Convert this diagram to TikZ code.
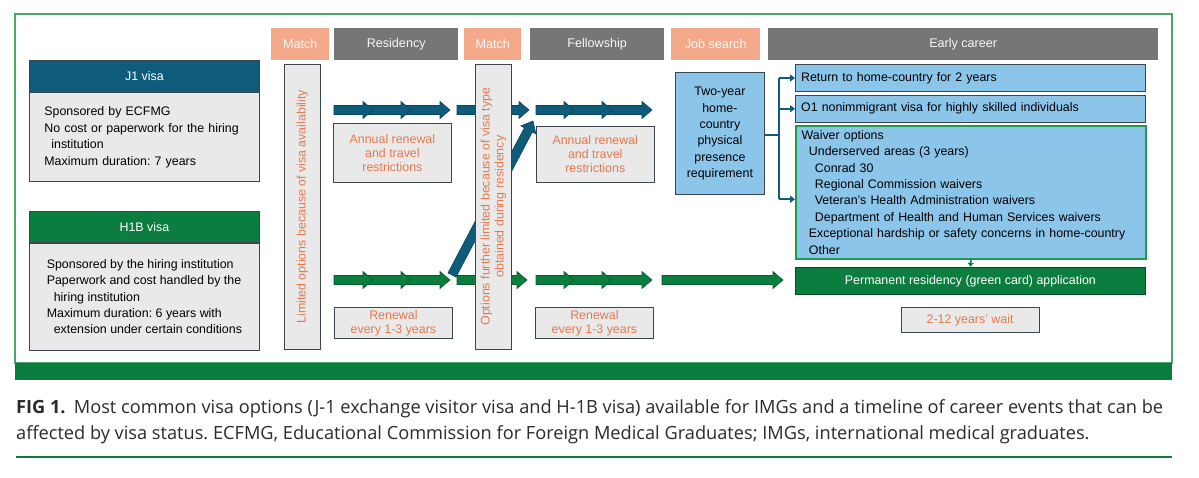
\documentclass[tikz,border=0pt]{standalone}
\usepackage{fontspec}
\setmainfont{Liberation Sans}
\newfontfamily\capfont{Open Sans}
\usetikzlibrary{positioning, arrows.meta, calc}

\definecolor{jteal}{HTML}{0F5B7C}
\definecolor{hgreen}{HTML}{0B7D3E}
\definecolor{salmon}{HTML}{F5A98B}
\definecolor{stagegray}{HTML}{767676}
\definecolor{boxgray}{HTML}{E9E9E9}
\definecolor{edge}{HTML}{3A4750}
\definecolor{skyblue}{HTML}{8CC5EA}
\definecolor{noteorange}{HTML}{E6784C}
\definecolor{framegreen}{HTML}{4CA56E}
\definecolor{waivergreen}{HTML}{1E9A4F}
\definecolor{captext}{HTML}{2B2B2B}

\newcommand{\txt}{\fontsize{12.4}{16.4}\selectfont}
\newcommand{\note}{\fontsize{12.4}{14}\selectfont}
\newcommand{\capsize}{\capfont\fontsize{18.2}{20}\selectfont}

\newcommand{\blockarrow}[4]{%
  \draw[fill=#4, draw=#4!75!black, line width=0.6] (#1,#3-4.5) -- (#2-10,#3-4.5) -- (#2-10,#3-8.5)
    -- (#2,#3) -- (#2-10,#3+8.5) -- (#2-10,#3+4.5) -- (#1,#3+4.5) -- cycle;}

\tikzset{
  stage/.style={fill=#1, text=white!94!gray, minimum height=32, inner sep=0, anchor=north west,
    font=\fontsize{12.6}{15}\selectfont},
  visahead/.style={fill=#1, draw=edge, line width=0.8, text=white, minimum width=230,
    minimum height=31.5, inner sep=0, anchor=north west},
  visabody/.style={fill=boxgray, draw=edge, line width=0.8, minimum width=230, inner sep=0,
    align=left},
  limitbar/.style={fill=boxgray, draw=edge, line width=0.8, rotate=90, minimum width=285,
    minimum height=36.5, inner sep=0, text=noteorange, align=center, font=\note},
  notebox/.style={fill=boxgray, draw=edge, line width=0.8, text=noteorange, align=center,
    inner sep=0, font=\note, anchor=north west},
  skybox/.style={fill=skyblue, draw=edge, line width=0.8, anchor=north west, inner sep=0},
  rightbox/.style={skybox, minimum width=350, inner xsep=5.7, text width=338.6, align=left},
  link/.style={draw=jteal, line width=1.8},
}

\begin{document}
\frenchspacing
\begin{tikzpicture}[x=1pt, y=-1pt, font=\txt]
  \fill[white] (0,0) rectangle (1199,477);
  \useasboundingbox (0,0) rectangle (1199,477);

  \draw[framegreen, line width=1.5] (15,14) rectangle (1172,363);
  \fill[hgreen] (15,363) rectangle (1172,380);

  \node[stage=salmon, minimum width=58] (match1) at (271,28) {Match};
  \node[stage=stagegray, minimum width=124] (resid) at (334,28) {Residency};
  \node[stage=salmon, minimum width=57] (match2) at (464,28) {Match};
  \node[stage=stagegray, minimum width=134] (fellow) at (530,28) {Fellowship};
  \node[stage=salmon, minimum width=89] (jobs) at (671,28) {Job search};
  \node[stage=stagegray, minimum width=390] (early) at (768,28) {Early career};

  \node[visahead=jteal] (j1) at (29,60) {J1 visa};
  \node[visabody, minimum height=89, below=0pt of j1, inner xsep=15, text width=200] (j1body)
    {Sponsored by ECFMG\\No cost or paperwork for the hiring\\\hspace*{7pt}institution\\
    Maximum duration: 7 years};
  \node[visahead=hgreen] (h1b) at (29,210.7) {H1B visa};
  \node[visabody, minimum height=106.6, below=0pt of h1b] (h1bbody)
    {Sponsored by the hiring institution\\Paperwork and cost handled by the\\
    \hspace*{7pt}hiring institution\\Maximum duration: 6 years with\\
    \hspace*{7pt}extension under certain conditions};

  \foreach \a/\b in {603/652, 565/612, 536/574, 403/450, 364/411, 334/373}
    \blockarrow{\a}{\b}{110}{jteal};
  \blockarrow{457}{529}{110}{jteal}
  \foreach \a/\b in {603/652, 565/612, 536/574, 403/450, 364/411, 334/373}
    \blockarrow{\a}{\b}{280}{hgreen};
  \blockarrow{457}{527}{280}{hgreen}
  \blockarrow{662}{783}{280}{hgreen}
  \begin{scope}[shift={(452,275)}, rotate=62.25]
    \blockarrow{0}{174}{0}{jteal}
  \end{scope}

  \node[limitbar] (lim1) at (302.3,206.7) {Limited options because of visa availability};
  \node[limitbar] (lim2) at (493.3,206.7)
    {Options further limited because of visa type\\obtained during residency};

  \node[notebox, minimum width=118, minimum height=58.7] (annual1) at (333,123)
    {Annual renewal\\and travel\\restrictions};
  \node[notebox, minimum width=118, minimum height=31.6] (renew1) at (334,306.7)
    {Renewal\\every 1-3 years};
  \node[notebox, minimum width=117.7, minimum height=55.7] (annual2) at (536,126)
    {Annual renewal\\and travel\\restrictions};
  \node[notebox, minimum width=117.4, minimum height=31.6] (renew2) at (535.3,306.7)
    {Renewal\\every 1-3 years};

  \node[skybox, minimum width=89, minimum height=122, align=center] (twoyear) at (675,72.3)
    {Two-year\\home-\\country\\physical\\presence\\requirement};

  \node[rightbox, minimum height=26.7] (ret) at (795,64.3) {Return to home-country for 2 years};
  \node[rightbox, minimum height=26.7] (o1) at (795,95)
    {O1 nonimmigrant visa for highly skilled individuals};
  \node[rightbox, draw=waivergreen, line width=1.8, minimum height=132.7, inner xsep=5]
    (waiver) at (795,125) {Waiver options\\\hspace*{7.3pt}Underserved areas (3 years)\\
    \hspace*{13.3pt}Conrad 30\\\hspace*{13.3pt}Regional Commission waivers\\
    \hspace*{13.3pt}Veteran’s Health Administration waivers\\
    \hspace*{13.3pt}Department of Health and Human Services waivers\\
    \hspace*{7.3pt}Exceptional hardship or safety concerns in home-country\\
    \hspace*{7.3pt}Other};
  \node[skybox, fill=hgreen, draw=hgreen!60!black, text=white, minimum width=350,
    minimum height=27.6] (perm) at (795,266.7) {Permanent residency (green card) application};
  \node[notebox, minimum width=138, minimum height=25.6] (wait) at (900.7,306.7)
    {2-12 years’ wait};

  \coordinate (fork) at (779,135);
  \coordinate (wv) at ($(waiver.west)+(0,7)$);
  \draw[link] (twoyear.east |- fork) -- (fork);
  \draw[link] (fork |- ret.west) -- (fork |- wv);
  \draw[link, -{Triangle[length=5pt, width=7pt]}] (fork |- ret.west) -- (ret.west);
  \draw[link, -{Triangle[length=5pt, width=7pt]}] (fork |- o1.west) -- (o1.west);
  \draw[link, -{Triangle[length=5pt, width=7pt]}] (fork |- wv) -- (wv);
  \draw[hgreen, line width=1.5, -{Triangle[length=4pt, width=6pt]}] (waiver.south) -- (perm.north);

  \node[anchor=base west, inner sep=0, text=captext, font=\capsize] (cap1) at (16,413)
    {\textbf{FIG 1.}\hspace{0.45em}Most common visa options (J-1 exchange visitor visa and H-1B visa) available for IMGs and a timeline of career events that can be};
  \node[anchor=base west, inner sep=0, text=captext, font=\capsize] (cap2) at (16,439)
    {affected by visa status. ECFMG, Educational Commission for Foreign Medical Graduates; IMGs, international medical graduates.};
  \fill[hgreen] (16,455.5) rectangle (1172,458);
\end{tikzpicture}
\end{document}
